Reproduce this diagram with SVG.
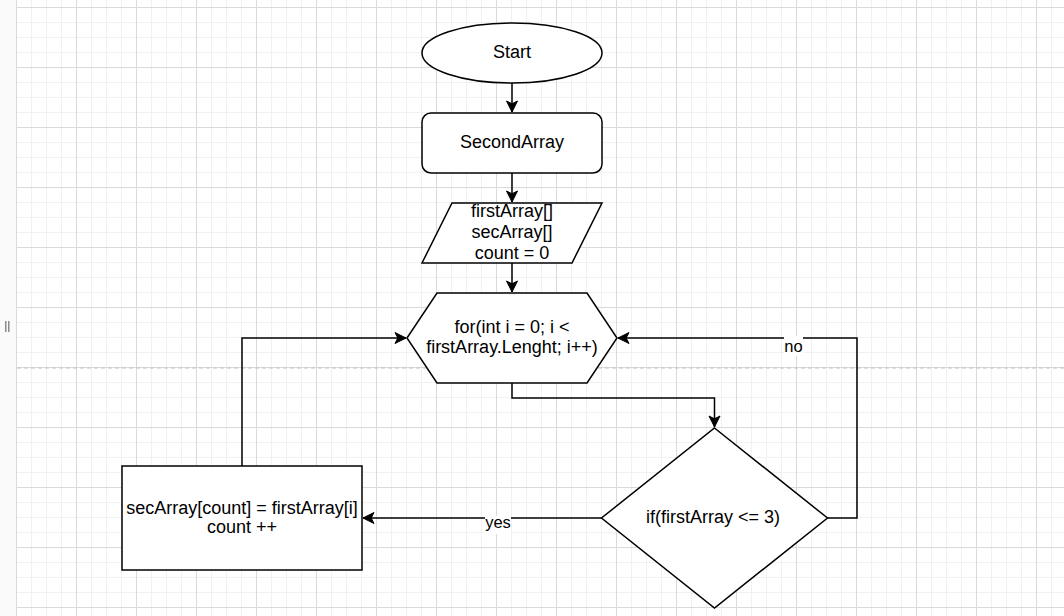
<svg xmlns="http://www.w3.org/2000/svg" width="1064" height="616" viewBox="0 0 1064 616">
  <style>
    .shape { fill: #ffffff; stroke: #000000; stroke-width: 1.5; }
    .edge { fill: none; stroke: #000000; stroke-width: 1.5; }
    .lbl { font-family: "Liberation Sans", Arial, sans-serif; font-size: 18px; fill: #000000; text-anchor: middle; }
    .elbl { font-family: "Liberation Sans", Arial, sans-serif; font-size: 16.5px; fill: #000000; text-anchor: middle; }
  </style>
  <defs>
    <pattern id="grid" x="16" y="7" width="60" height="60" patternUnits="userSpaceOnUse">
      <path d="M15.5 0V60M30.5 0V60M45.5 0V60M0 15.5H60M0 30.5H60M0 45.5H60" stroke="#f1f1f1" stroke-width="1" fill="none"/>
      <path d="M0.5 0V60M0 0.5H60" stroke="#dadada" stroke-width="1" fill="none"/>
    </pattern>
    <marker id="arrow" markerUnits="userSpaceOnUse" markerWidth="13" markerHeight="13" viewBox="0 0 13 13" refX="12" refY="6.5" orient="auto">
      <path d="M1 1 L12 6.5 L1 12 L3.8 6.5 Z" fill="#000000" stroke="#000000" stroke-width="1"/>
    </marker>
  </defs>

  <!-- canvas background with grid -->
  <rect x="0" y="0" width="1064" height="616" fill="#ffffff"/>
  <rect x="16" y="0" width="1048" height="616" fill="url(#grid)"/>
  <rect x="0" y="0" width="16" height="616" fill="#fafafa"/>
  <line x1="16.5" y1="0" x2="16.5" y2="616" stroke="#dadada" stroke-width="1"/>
  <rect x="5" y="321" width="1.5" height="11" fill="#8a8a8a"/>
  <rect x="8" y="321" width="1.5" height="11" fill="#8a8a8a"/>
  <!-- page break -->
  <line x1="17" y1="368" x2="1064" y2="368" stroke="#c2c2c2" stroke-width="1" stroke-dasharray="4 3"/>

  <!-- connectors -->
  <g id="connectors">
    <path class="edge" d="M512 83 V112" marker-end="url(#arrow)"/>
    <path class="edge" d="M512 173 V202" marker-end="url(#arrow)"/>
    <path class="edge" d="M512 263 V292" marker-end="url(#arrow)"/>
    <path class="edge" d="M512 383 V398 H714.5 V427" marker-end="url(#arrow)"/>
    <path class="edge" d="M827 518 H857 V338 H618" marker-end="url(#arrow)"/>
    <path class="edge" d="M602 518 H363" marker-end="url(#arrow)"/>
    <path class="edge" d="M242 466 V338 H406" marker-end="url(#arrow)"/>
    <rect x="784" y="336" width="19" height="20" fill="#ffffff"/>
    <text class="elbl" x="793.5" y="352">no</text>
    <rect x="485" y="516" width="26" height="18" fill="#ffffff"/>
    <text class="elbl" x="498" y="528">yes</text>
  </g>

  <g id="start">
    <ellipse class="shape" cx="512" cy="53" rx="90" ry="30"/>
    <text class="lbl" x="512" y="58">Start</text>
  </g>

  <g id="second-array">
    <rect class="shape" x="422" y="113" width="180" height="60" rx="9" ry="9"/>
    <text class="lbl" x="512" y="148">SecondArray</text>
  </g>

  <g id="input">
    <polygon class="shape" points="452,203 602,203 572,263 422,263"/>
    <text class="lbl" x="512" y="217">firstArray[]</text>
    <text class="lbl" x="512" y="238">secArray[]</text>
    <text class="lbl" x="512" y="259">count = 0</text>
  </g>

  <g id="loop">
    <polygon class="shape" points="407,338 437,293 587,293 617,338 587,383 437,383"/>
    <text class="lbl" x="512" y="333">for(int i = 0; i &lt;</text>
    <text class="lbl" x="512" y="353">firstArray.Lenght; i++)</text>
  </g>

  <g id="condition">
    <polygon class="shape" points="714.5,428 827.5,518 714.5,608 601.5,518"/>
    <text class="lbl" x="713" y="523">if(firstArray &lt;= 3)</text>
  </g>

  <g id="assign">
    <rect class="shape" x="122" y="466" width="240" height="104"/>
    <text class="lbl" x="242" y="514">secArray[count] = firstArray[i]</text>
    <text class="lbl" x="242" y="533">count ++</text>
  </g>
</svg>
